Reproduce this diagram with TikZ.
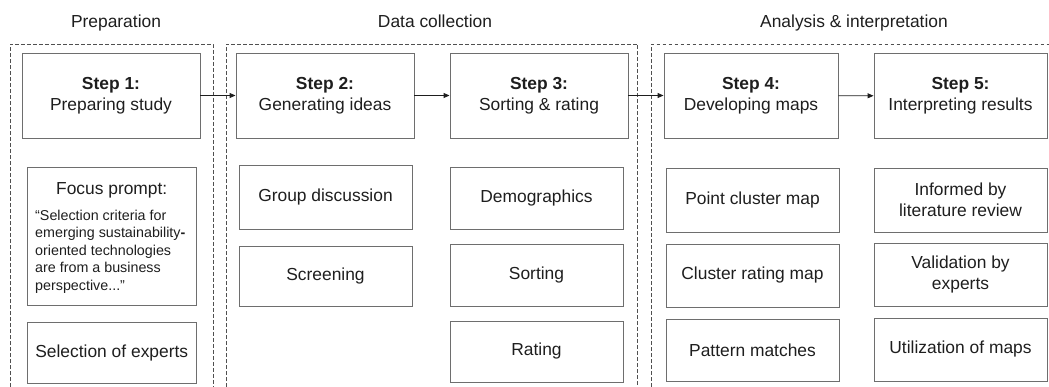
\documentclass[tikz,border=0pt]{standalone}
\usepackage{fontspec}
\setmainfont{Liberation Sans}
\usetikzlibrary{arrows.meta}
\definecolor{boxline}{HTML}{6E6E6E}
\definecolor{dashline}{HTML}{505050}
\definecolor{txt}{HTML}{1E1E1E}
\tikzset{
  panel/.style={draw=dashline, line width=0.8pt, dash pattern=on 3.6pt off 2.4pt},
  stepbox/.style={draw=boxline, line width=0.9pt, minimum width=#1, minimum height=85pt,
    inner sep=0pt, align=center, text=txt, font=\fontsize{17.4}{20.8}\selectfont},
  subbox/.style={draw=boxline, line width=0.9pt, inner sep=0pt, align=center, text=txt,
    font=\fontsize{17.4}{20.8}\selectfont},
  paneltitle/.style={text=txt, inner sep=0pt, font=\fontsize{17.4}{20.8}\selectfont},
  flow/.style={draw=txt, line width=0.9pt, -{Triangle[length=6pt,width=5pt]}},
}
\begin{document}
\begin{tikzpicture}[x=1pt,y=-1pt]
\useasboundingbox (0,0) rectangle (1049,387);
% panels
\draw[panel] (10,387) -- (10,44) -- (213,44) -- (213,387);
\draw[panel] (226,387) -- (226,44) -- (637.5,44) -- (637.5,387);
\draw[panel] (651.5,387) -- (651.5,44) -- (1049,44);
% titles
\node[paneltitle, anchor=base] (t1) at (116,27.5) {Preparation};
\node[paneltitle, anchor=base] (t2) at (435,27.5) {Data collection};
\node[paneltitle, anchor=base] (t3) at (854,27.5) {Analysis \& interpretation};
% step boxes
\node[stepbox=178pt] (s1) at (111,95.5) {\textbf{Step 1:}\\Preparing study};
\node[stepbox=178pt] (s2) at (325,95.5) {\textbf{Step 2:}\\Generating ideas};
\node[stepbox=178pt] (s3) at (539,95.5) {\textbf{Step 3:}\\Sorting \& rating};
\node[stepbox=174pt] (s4) at (751,95.5) {\textbf{Step 4:}\\Developing maps};
\node[stepbox=173pt] (s5) at (960.5,96) {\textbf{Step 5:}\\Interpreting results};
% arrows
\draw[flow] (s1) -- (s2);
\draw[flow] (s2) -- (s3);
\draw[flow] (s3) -- (s4);
\draw[flow] (s4) -- (s5);
% preparation column
\node[subbox, minimum width=168.5pt, minimum height=138pt] (fp) at (111.75,236) {};
\node[paneltitle, anchor=base] (fpt) at (111.75,195) {Focus prompt:};
\node[text=txt, inner sep=0pt, anchor=north west, align=left,
  font=\fontsize{14.3}{17.5}\selectfont] (fpx) at (35,209.5)
  {“Selection criteria for\\emerging sustainability\textbf{-}\\oriented technologies\\are from a business\\perspective...”};
\node[subbox, minimum width=168.5pt, minimum height=61pt] (se) at (111.75,352.5) {Selection of experts};
% data collection column a
\node[subbox, minimum width=173pt, minimum height=64pt] (gd) at (325.5,197) {Group discussion};
\node[subbox, minimum width=173pt, minimum height=60pt] (sc) at (325.5,276) {Screening};
% data collection column b
\node[subbox, minimum width=173pt, minimum height=62pt] (dm) at (536.5,198) {Demographics};
\node[subbox, minimum width=173pt, minimum height=62pt] (so) at (536.5,275) {Sorting};
\node[subbox, minimum width=173pt, minimum height=61pt] (ra) at (536.5,351.5) {Rating};
% analysis column a
\node[subbox, minimum width=173pt, minimum height=64pt] (pc) at (752.5,200) {Point cluster map};
\node[subbox, minimum width=173pt, minimum height=63pt] (cr) at (752.5,275.5) {Cluster rating map};
\node[subbox, minimum width=173pt, minimum height=62pt] (pm) at (752.5,350) {Pattern matches};
% analysis column b
\node[subbox, minimum width=173pt, minimum height=64pt] (ib) at (960.5,200) {Informed by\\literature review};
\node[subbox, minimum width=173pt, minimum height=63pt] (vb) at (960.5,274.5) {Validation by\\experts};
\node[subbox, minimum width=173pt, minimum height=63pt] (um) at (960.5,349.5) {Utilization of maps};
\end{tikzpicture}
\end{document}
